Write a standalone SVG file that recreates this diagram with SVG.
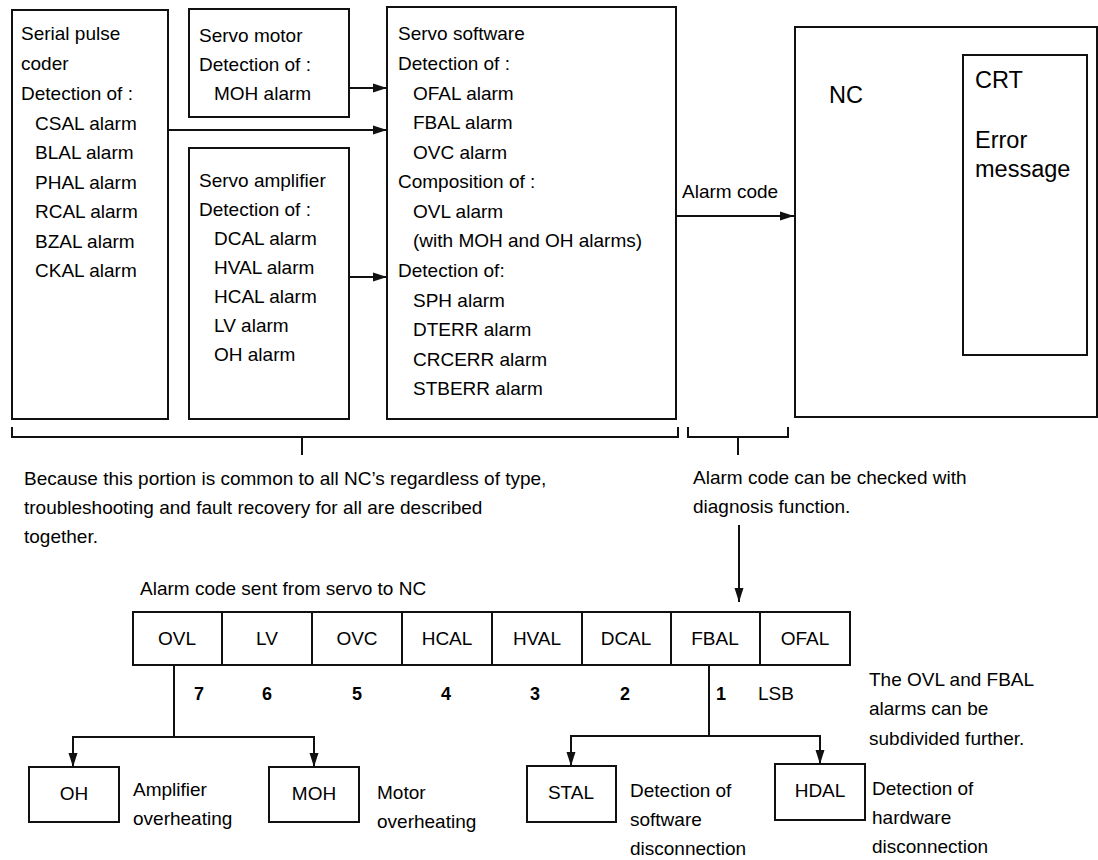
<svg xmlns="http://www.w3.org/2000/svg" width="1098" height="860" viewBox="0 0 1098 860">
<style>
text{font-family:"Liberation Sans",Arial,Helvetica,sans-serif;font-size:19px;fill:#000}
.big{font-size:23.5px}
.c{text-anchor:middle}
.d{font-weight:bold;font-size:18px}
.bx,.ln{fill:none;stroke:#111;stroke-width:2}
</style>
<defs>
<marker id="ah" markerUnits="userSpaceOnUse" markerWidth="14" markerHeight="10" refX="14" refY="5" orient="auto">
<path d="M0,0.5 L14,5 L0,9.5 z" fill="#111"/>
</marker>
</defs>
<rect x="0" y="0" width="1098" height="860" fill="#fff"/>

<g id="spc">
<rect class="bx" x="12" y="10" width="156" height="409"/>
<text x="21" y="40">Serial pulse</text>
<text x="21" y="70">coder</text>
<text x="21" y="100">Detection of :</text>
<text x="35" y="130">CSAL alarm</text>
<text x="35" y="159">BLAL alarm</text>
<text x="35" y="189">PHAL alarm</text>
<text x="35" y="218">RCAL alarm</text>
<text x="35" y="248">BZAL alarm</text>
<text x="35" y="277">CKAL alarm</text>
</g>

<g id="motor">
<rect class="bx" x="189" y="9" width="160" height="108"/>
<text x="199" y="42">Servo motor</text>
<text x="199" y="71">Detection of :</text>
<text x="214" y="100">MOH alarm</text>
</g>

<g id="amp">
<rect class="bx" x="189" y="148" width="160" height="271"/>
<text x="199" y="187">Servo amplifier</text>
<text x="199" y="216">Detection of :</text>
<text x="214" y="245">DCAL alarm</text>
<text x="214" y="274">HVAL alarm</text>
<text x="214" y="303">HCAL alarm</text>
<text x="214" y="332">LV alarm</text>
<text x="214" y="361">OH alarm</text>
</g>

<g id="software">
<rect class="bx" x="387" y="7" width="289" height="412"/>
<text x="398" y="40">Servo software</text>
<text x="398" y="70">Detection of :</text>
<text x="413" y="100">OFAL alarm</text>
<text x="413" y="129">FBAL alarm</text>
<text x="413" y="159">OVC alarm</text>
<text x="398" y="188">Composition of :</text>
<text x="413" y="218">OVL alarm</text>
<text x="413" y="247">(with MOH and OH alarms)</text>
<text x="398" y="277">Detection of:</text>
<text x="413" y="307">SPH alarm</text>
<text x="413" y="336">DTERR alarm</text>
<text x="413" y="366">CRCERR alarm</text>
<text x="413" y="395">STBERR alarm</text>
</g>

<g id="nc">
<rect class="bx" x="795" y="27" width="302" height="390"/>
<text class="big" x="829" y="103">NC</text>
</g>

<g id="crt">
<rect class="bx" x="963" y="55" width="124" height="300"/>
<text class="big" x="975" y="88">CRT</text>
<text class="big" x="975" y="148">Error</text>
<text class="big" x="975" y="177">message</text>
</g>

<g id="register">
<rect class="bx" x="133" y="612" width="717" height="53"/>
<path class="ln" d="M222,612V665M312,612V665M402,612V665M492,612V665M582,612V665M671,612V665M760,612V665"/>
<text class="c" x="177" y="645">OVL</text>
<text class="c" x="267" y="645">LV</text>
<text class="c" x="357" y="645">OVC</text>
<text class="c" x="447" y="645">HCAL</text>
<text class="c" x="537" y="645">HVAL</text>
<text class="c" x="626" y="645">DCAL</text>
<text class="c" x="715" y="645">FBAL</text>
<text class="c" x="805" y="645">OFAL</text>
<text class="d" x="194" y="700">7</text>
<text class="d" x="262" y="700">6</text>
<text class="d" x="352" y="700">5</text>
<text class="d" x="441" y="700">4</text>
<text class="d" x="530" y="700">3</text>
<text class="d" x="620" y="700">2</text>
<text class="d" x="716" y="700">1</text>
<text x="758" y="700">LSB</text>
</g>

<g id="oh">
<rect class="bx" x="29" y="767" width="90" height="55"/>
<text class="c" x="74" y="800">OH</text>
</g>
<g id="moh">
<rect class="bx" x="269" y="767" width="90" height="55"/>
<text class="c" x="314" y="800">MOH</text>
</g>
<g id="stal">
<rect class="bx" x="527" y="766" width="89" height="56"/>
<text class="c" x="571" y="799">STAL</text>
</g>
<g id="hdal">
<rect class="bx" x="775" y="764" width="90" height="56"/>
<text class="c" x="820" y="797">HDAL</text>
</g>

<g id="labels">
<text x="682" y="198">Alarm code</text>
<text x="24" y="485">Because this portion is common to all NC’s regardless of type,</text>
<text x="24" y="514">troubleshooting and fault recovery for all are described</text>
<text x="24" y="543">together.</text>
<text x="693" y="484">Alarm code can be checked with</text>
<text x="693" y="513">diagnosis function.</text>
<text x="140" y="595">Alarm code sent from servo to NC</text>
<text x="869" y="686">The OVL and FBAL</text>
<text x="869" y="715">alarms can be</text>
<text x="869" y="745">subdivided further.</text>
<text x="133" y="796">Amplifier</text>
<text x="133" y="825">overheating</text>
<text x="377" y="799">Motor</text>
<text x="377" y="828">overheating</text>
<text x="630" y="797">Detection of</text>
<text x="630" y="826">software</text>
<text x="630" y="855">disconnection</text>
<text x="872" y="795">Detection of</text>
<text x="872" y="824">hardware</text>
<text x="872" y="853">disconnection</text>
</g>

<g id="connectors">
<path class="ln" d="M349,88H387" marker-end="url(#ah)"/>
<path class="ln" d="M168,130H387" marker-end="url(#ah)"/>
<path class="ln" d="M349,277H387" marker-end="url(#ah)"/>
<path class="ln" d="M676,216H794" marker-end="url(#ah)"/>
<path class="ln" d="M12,427V437H678V427"/>
<path class="ln" d="M302,437V455"/>
<path class="ln" d="M688,427V437H788V427"/>
<path class="ln" d="M738,437V455"/>
<path class="ln" d="M739,525V602" marker-end="url(#ah)"/>
<path class="ln" d="M174,665V737M73,737H314"/>
<path class="ln" d="M73,736V767" marker-end="url(#ah)"/>
<path class="ln" d="M314,736V767" marker-end="url(#ah)"/>
<path class="ln" d="M709,665V736M571,736H820"/>
<path class="ln" d="M571,735V766" marker-end="url(#ah)"/>
<path class="ln" d="M820,735V764" marker-end="url(#ah)"/>
</g>
</svg>
